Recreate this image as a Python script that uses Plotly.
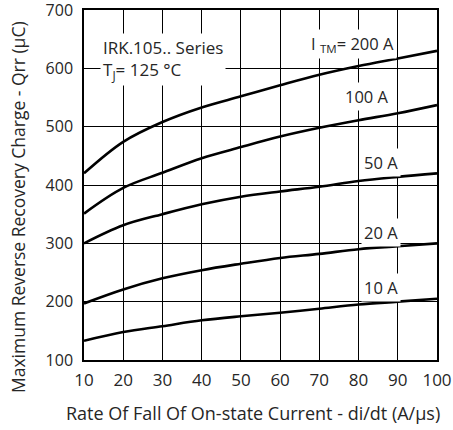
import plotly.graph_objects as go

di_dt = [10, 20, 30, 40, 50, 60, 70, 80, 90, 100]
q_200a = [420, 474, 508, 533, 552, 571, 589, 604, 617, 630]
q_100a = [351, 395, 421, 446, 465, 483, 498, 511, 523, 537]
q_50a = [300, 331, 350, 367, 380, 389, 397, 407, 414, 420]
q_20a = [197, 221, 240, 254, 265, 275, 282, 290, 295, 300]
q_10a = [133, 148, 158, 168, 175, 181, 188, 195, 200, 205]

series = [q_200a, q_100a, q_50a, q_20a, q_10a]
x_ticks = [10, 20, 30, 40, 50, 60, 70, 80, 90, 100]
y_ticks = [100, 200, 300, 400, 500, 600, 700]

FONT = "Open Sans"
TXT = "#262626"

fig = go.Figure()
for s in series:
    fig.add_trace(go.Scatter(x=di_dt, y=s, mode="lines",
                             line=dict(color="black", width=2.6, shape="spline", smoothing=1.0),
                             showlegend=False, hoverinfo="skip"))

fig.update_layout(
    width=453, height=430,
    margin=dict(l=84, r=16, t=10, b=70, autoexpand=False),
    paper_bgcolor="white", plot_bgcolor="white",
    font=dict(family=FONT, size=16, color=TXT),
    xaxis=dict(range=[10, 100], tickvals=x_ticks, showgrid=True, gridcolor="black",
               gridwidth=1.3, showline=True, linecolor="black", linewidth=1.5, mirror=True,
               ticks="", zeroline=False, automargin=False, ticklabelstandoff=4,
               tickfont=dict(size=17, family=FONT, color=TXT)),
    yaxis=dict(range=[100, 700.01], tickvals=y_ticks, showgrid=True, gridcolor="black",
               gridwidth=1.3, showline=True, linecolor="black", linewidth=1.5, mirror=True,
               ticks="", zeroline=False, automargin=False, ticklabelstandoff=6,
               ticklabeloverflow="allow",
               tickfont=dict(size=16, family=FONT, color=TXT)),
)

# axis titles
fig.add_annotation(text="Maximum Reverse Recovery Charge - Qrr (µC)", textangle=-90,
                   xref="paper", yref="paper", x=-0.187, y=0.437, xanchor="center", yanchor="middle",
                   showarrow=False, font=dict(size=17.5, family=FONT, color=TXT))
fig.add_annotation(text="Rate Of Fall Of On-state Current - di/dt (A/µs)",
                   xref="paper", yref="paper", x=0.48, y=-0.151, xanchor="center", yanchor="middle",
                   showarrow=False, font=dict(size=18, family=FONT, color=TXT))

# left info box
fig.add_annotation(text="IRK.105.. Series<br>T<sub>J</sub>= 125 °C", xref="x", yref="y",
                   x=14.2, y=661, xanchor="left", yanchor="top", align="left",
                   showarrow=False, bgcolor="white", borderpad=2,
                   font=dict(size=17, family=FONT, color=TXT))

labels = [("I <sub>TM</sub>= 200 A", 78.4, 641),
          ("100 A", 82.2, 551),
          ("50 A", 85.8, 438),
          ("20 A", 85.8, 318),
          ("10 A", 85.8, 225)]
for t, x, y in labels:
    fig.add_annotation(text=t, x=x, y=y, xref="x", yref="y", showarrow=False,
                       bgcolor="white", borderpad=2,
                       font=dict(size=16.5, family=FONT, color=TXT))

fig.write_html("out.html", config={"displayModeBar": False},
               post_script="document.body.style.margin='0';document.body.style.overflow='hidden';")
